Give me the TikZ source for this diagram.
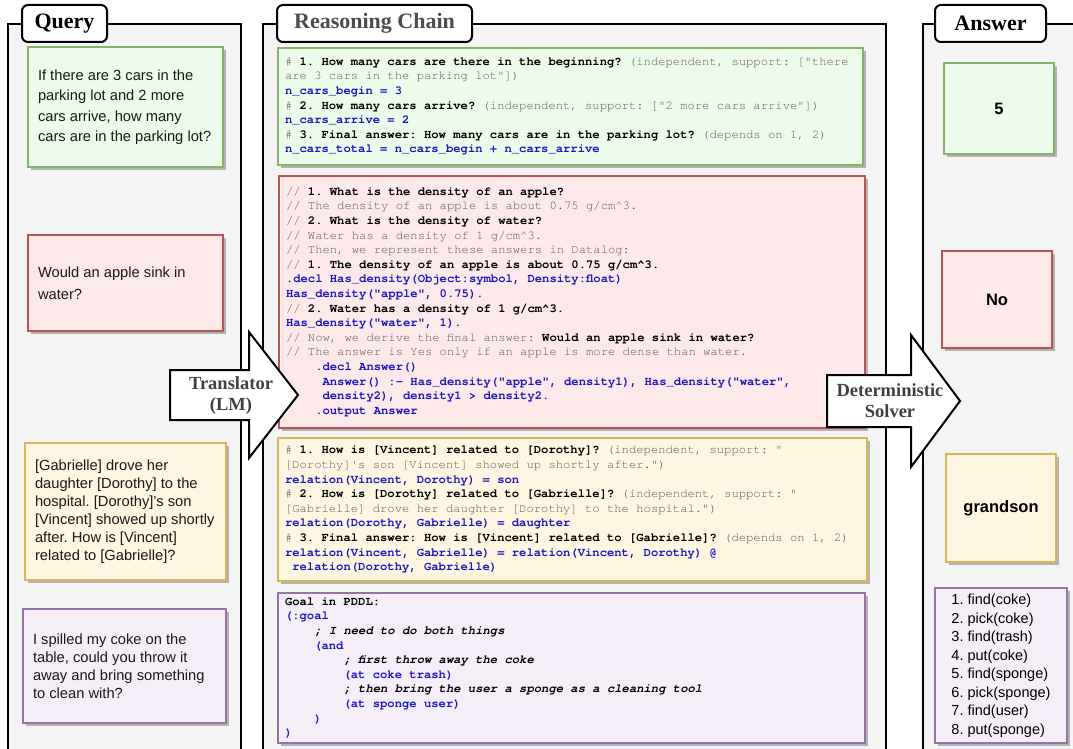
\documentclass[tikz,border=0pt]{standalone}
\usepackage{fontspec}
\setmainfont{Liberation Sans}
\newfontfamily\codefont{texgyrecursor}[Extension=.otf, UprightFont=*-regular, BoldFont=*-bold,
  ItalicFont=*-italic, BoldItalicFont=*-bolditalic]
\newfontfamily\hdfont{Liberation Serif}
\usetikzlibrary{shadows}
\frenchspacing

\definecolor{grnfill}{HTML}{EDFCEA}
\definecolor{grnline}{HTML}{82B366}
\definecolor{redfill}{HTML}{FDE9E9}
\definecolor{redline}{HTML}{B85450}
\definecolor{ylwfill}{HTML}{FEF6E0}
\definecolor{ylwline}{HTML}{D6B656}
\definecolor{prpfill}{HTML}{F5EEF9}
\definecolor{prpline}{HTML}{9673A6}
\definecolor{panelgray}{HTML}{F4F4F4}
\definecolor{cgray}{HTML}{5A5A5A}
\definecolor{cblue}{HTML}{1818C0}

\newcommand{\cmt}[1]{{\color{cgray}#1}}
\newcommand{\qst}[1]{{\bfseries #1}}
\newcommand{\cde}[1]{{\color{cblue}\bfseries #1}}
\newcommand{\cit}[1]{{\bfseries\itshape #1}}
\newcommand{\ind}[1]{\hspace*{#1\dimexpr0.6em\relax}}
\newcommand{\natsp}{\spaceskip=0pt\xspaceskip=0pt\relax}

\begin{document}
\begin{tikzpicture}[x=1pt, y=-1pt,
  every node/.append style={execute at begin node=\natsp},
  panelline/.style={line width=2pt},
  tabbox/.style={draw, fill=white, rounded corners=6pt, line width=2pt, minimum height=37pt, inner sep=0pt,
    font={\hdfont\bfseries\fontsize{22}{24}\selectfont}},
  box/.style={draw, line width=2pt, anchor=north west, inner sep=0pt,
    drop shadow={shadow xshift=3pt, shadow yshift=-3pt, fill=black!30, opacity=1}},
  green/.style={fill=grnfill, draw=grnline},
  red/.style={fill=redfill, draw=redline},
  yellow/.style={fill=ylwfill, draw=ylwline},
  purple/.style={fill=prpfill, draw=prpline},
  qbox/.style={box, align=left, text=black!90, font={\fontsize{14.7}{18}\selectfont}},
  codebox/.style={box, align=left, font={\codefont\fontsize{12.2}{14.6}\selectfont}},
  ansbox/.style={box, align=center, font={\bfseries\fontsize{16.5}{20}\selectfont}},
  bigarrow/.style={draw, fill=white, line width=2pt, line join=miter},
  arrowtext/.style={align=center, text=black!75, font={\hdfont\bfseries\fontsize{18.5}{21}\selectfont}}]
  \useasboundingbox (0,0) rectangle (1073,749);

  % panels
  \fill[panelgray] (8,24) rectangle (241,760);
  \fill[panelgray] (263,24) rectangle (886,760);
  \fill[panelgray] (923,24) rectangle (1080,760);
  \draw[panelline] (8,760) -- (8,24) -- (241,24) -- (241,760);
  \draw[panelline] (263,760) -- (263,24) -- (886,24) -- (886,760);
  \draw[panelline] (923,760) -- (923,24) -- (1080,24);

  \node (qtab) [tabbox, minimum width=85pt] at (64.5,23.5) {Query};
  \node (rtab) [tabbox, minimum width=195pt, text=black!70] at (374.5,23.5) {Reasoning Chain};
  \node (atab) [tabbox, minimum width=111pt] at (990.5,23.5) {Answer};

  % queries
  \node (q1) [qbox, green, minimum width=195pt, minimum height=120pt, text width=175pt,
    font={\fontsize{14.7}{20.4}\selectfont}] at (27,46)
    {If there are 3 cars in the\\parking lot and 2 more\\cars arrive, how many\\cars are in the parking lot?};
  \node (q2) [qbox, red, minimum width=195pt, minimum height=96pt, text width=175pt,
    font={\fontsize{14.7}{22}\selectfont}] at (27,234)
    {Would an apple sink in\\water?};
  \node (q3) [qbox, yellow, minimum width=201pt, minimum height=137pt, text width=181pt] at (24,442)
    {[Gabrielle] drove her\\daughter [Dorothy] to the\\hospital. [Dorothy]'s son\\{}[Vincent] showed up shortly\\after. How is [Vincent]\\related to [Gabrielle]?};
  \node (q4) [qbox, purple, minimum width=203pt, minimum height=114pt, text width=183pt] at (22,608)
    {I spilled my coke on the\\table, could you throw it\\away and bring something\\to clean with?};

  % reasoning chains
  \node (c1) [codebox, green, minimum width=585pt, minimum height=117pt, text width=571pt] at (277,47) {%
    \cmt{\# }\qst{1. How many cars are there in the beginning?} \cmt{(independent, support: ["there}\\
    \cmt{are 3 cars in the parking lot"])}\\
    \cde{n\_cars\_begin = 3}\\
    \cmt{\# }\qst{2. How many cars arrive?} \cmt{(independent, support: ["2 more cars arrive"])}\\
    \cde{n\_cars\_arrive = 2}\\
    \cmt{\# }\qst{3. Final answer: How many cars are in the parking lot?} \cmt{(depends on 1, 2)}\\
    \cde{n\_cars\_total = n\_cars\_begin + n\_cars\_arrive}};
  \node (c2) [codebox, red, minimum width=586pt, minimum height=252pt, text width=572pt] at (278,175) {%
    \cmt{// }\qst{1. What is the density of an apple?}\\
    \cmt{// The density of an apple is about 0.75 g/cm\textasciicircum3.}\\
    \cmt{// }\qst{2. What is the density of water?}\\
    \cmt{// Water has a density of 1 g/cm\textasciicircum3.}\\
    \cmt{// Then, we represent these answers in Datalog:}\\
    \cmt{// }\qst{1. The density of an apple is about 0.75 g/cm\textasciicircum3.}\\
    \cde{.decl Has\_density(Object:symbol, Density:float)}\\
    \cde{Has\_density("apple", 0.75).}\\
    \cmt{// }\qst{2. Water has a density of 1 g/cm\textasciicircum3.}\\
    \cde{Has\_density("water", 1).}\\
    \cmt{// Now, we derive the final answer: }\qst{Would an apple sink in water?}\\
    \cmt{// The answer is Yes only if an apple is more dense than water.}\\
    \ind{4}\cde{.decl Answer()}\\
    \ind{5}\cde{Answer() :- Has\_density("apple", density1), Has\_density("water",}\\
    \ind{5}\cde{density2), density1 > density2.}\\
    \ind{4}\cde{.output Answer}};
  \node (c3) [codebox, yellow, minimum width=589pt, minimum height=143pt, text width=575pt] at (277,437) {%
    \cmt{\# }\qst{1. How is [Vincent] related to [Dorothy]?} \cmt{(independent, support: "}\\
    \cmt{[Dorothy]'s son [Vincent] showed up shortly after.")}\\
    \cde{relation(Vincent, Dorothy) = son}\\
    \cmt{\# }\qst{2. How is [Dorothy] related to [Gabrielle]?} \cmt{(independent, support: "}\\
    \cmt{[Gabrielle] drove her daughter [Dorothy] to the hospital.")}\\
    \cde{relation(Dorothy, Gabrielle) = daughter}\\
    \cmt{\# }\qst{3. Final answer: How is [Vincent] related to [Gabrielle]?} \cmt{(depends on 1, 2)}\\
    \cde{relation(Vincent, Gabrielle) = relation(Vincent, Dorothy) @}\\
    \ind{1}\cde{relation(Dorothy, Gabrielle)}};
  \node (c4) [codebox, purple, minimum width=587pt, minimum height=150pt, text width=573pt] at (277,592) {%
    \qst{Goal in PDDL:}\\
    \cde{(:goal}\\
    \ind{4}\cit{; I need to do both things}\\
    \ind{4}\cde{(and}\\
    \ind{8}\cit{; first throw away the coke}\\
    \ind{8}\cde{(at coke trash)}\\
    \ind{8}\cit{; then bring the user a sponge as a cleaning tool}\\
    \ind{8}\cde{(at sponge user)}\\
    \ind{4}\cde{)}\\
    \cde{)}};

  % answers
  \node (a1) [ansbox, green, minimum width=110pt, minimum height=91pt] at (943,62) {5};
  \node (a2) [ansbox, red, minimum width=110pt, minimum height=97pt] at (941,250) {No};
  \node (a3) [ansbox, yellow, minimum width=110pt, minimum height=108pt] at (945,453) {grandson};
  \node (a4) [box, purple, align=left, minimum width=132pt, minimum height=155pt,
    font={\fontsize{14.5}{18.5}\selectfont}] at (934,587)
    {1. find(coke)\\2. pick(coke)\\3. find(trash)\\4. put(coke)\\5. find(sponge)\\6. pick(sponge)\\7. find(user)\\8. put(sponge)};

  % translator and solver
  \draw[bigarrow] (170,370) -- (249,370) -- (249,332) -- (298,395) -- (249,458) -- (249,420) -- (170,420) -- cycle;
  \node (trans) [arrowtext] at (231,396) {Translator\\(LM)};
  \draw[bigarrow] (827,375) -- (911,375) -- (911,335) -- (960,401) -- (911,467) -- (911,427) -- (827,427) -- cycle;
  \node (solver) [arrowtext] at (890,401) {Deterministic\\Solver};
\end{tikzpicture}
\end{document}
